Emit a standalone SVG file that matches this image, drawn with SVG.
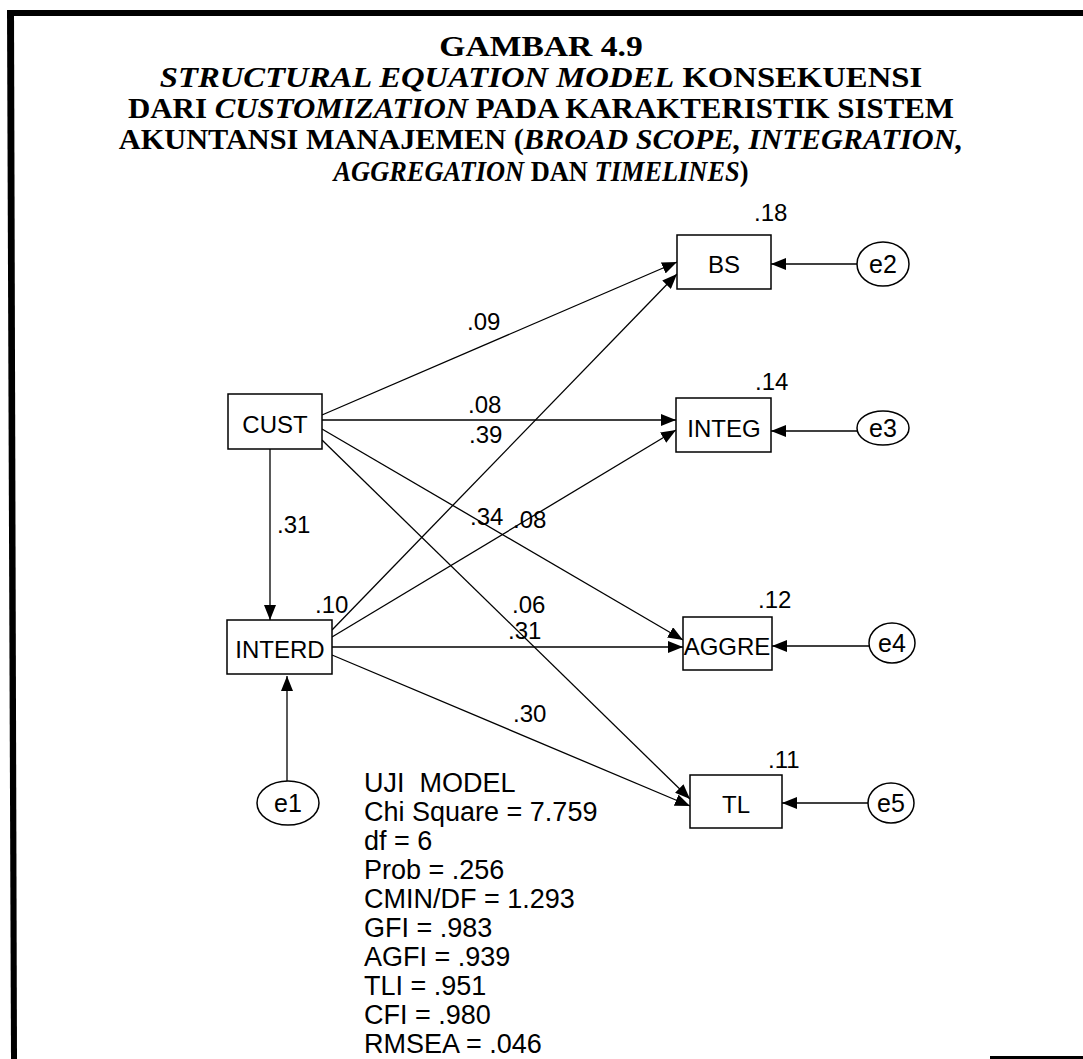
<svg xmlns="http://www.w3.org/2000/svg" width="1083" height="1059" viewBox="0 0 1083 1059">
<style>
.title{font-family:"Liberation Serif","Times New Roman",serif;font-weight:bold;font-size:30px;fill:#000;text-anchor:middle}
.it{font-style:italic}
.box{fill:#fff;stroke:#000;stroke-width:1.5}
.ell{fill:#fff;stroke:#000;stroke-width:1.5}
.lbl{font-family:"Liberation Sans",Arial,sans-serif;font-size:24px;fill:#000}
.nt{font-family:"Liberation Sans",Arial,sans-serif;font-size:24px;fill:#000;text-anchor:middle}
.et{font-family:"Liberation Sans",Arial,sans-serif;font-size:25px;fill:#000;text-anchor:middle}
.stat{font-family:"Liberation Sans",Arial,sans-serif;font-size:27px;fill:#000}
.c{stroke:#000;stroke-width:1.3;fill:none;marker-end:url(#ah)}
</style>
<defs>
<marker id="ah" markerUnits="userSpaceOnUse" markerWidth="16" markerHeight="12" refX="15" refY="6" orient="auto">
<path d="M0,0 L15,6 L0,12 Z" fill="#000"/>
</marker>
</defs>
<rect width="1083" height="1059" fill="#fff"/>
<g id="frame" fill="#000">
<rect x="7" y="10" width="1076" height="6"/>
<polygon points="7,10 14,10 17,1059 11,1059"/>
<rect x="990" y="1056" width="93" height="3"/>
</g>
<g id="title">
<text class="title" transform="translate(541,56) scale(1.12,1)" x="0" y="0">GAMBAR 4.9</text>
<text class="title" transform="translate(541,87) scale(1.09,1)" x="0" y="0"><tspan class="it">STRUCTURAL EQUATION MODEL</tspan> KONSEKUENSI</text>
<text class="title" transform="translate(541,118) scale(1.03,1)" x="0" y="0">DARI <tspan class="it">CUSTOMIZATION</tspan> PADA KARAKTERISTIK SISTEM</text>
<text class="title" transform="translate(541,149) scale(1.01,1)" x="0" y="0">AKUNTANSI MANAJEMEN (<tspan class="it">BROAD SCOPE, INTEGRATION,</tspan></text>
<text class="title" transform="translate(541,181) scale(0.88,1)" x="0" y="0"><tspan class="it">AGGREGATION</tspan> DAN <tspan class="it">TIMELINES</tspan>)</text>
</g>
<g id="connectors">
<line class="c" x1="322" y1="415" x2="677" y2="262"/>
<line class="c" x1="332" y1="630" x2="677" y2="274"/>
<line class="c" x1="322" y1="420" x2="676" y2="420"/>
<line class="c" x1="332" y1="637" x2="676" y2="430"/>
<line class="c" x1="322" y1="429" x2="683" y2="640"/>
<line class="c" x1="332" y1="647" x2="683" y2="647"/>
<line class="c" x1="322" y1="440" x2="690" y2="799"/>
<line class="c" x1="332" y1="655" x2="690" y2="806"/>
<line class="c" x1="270" y1="449" x2="270" y2="620"/>
<line class="c" x1="287" y1="781" x2="287" y2="676"/>
<line class="c" x1="857" y1="264" x2="771" y2="264"/>
<line class="c" x1="857" y1="431" x2="771" y2="431"/>
<line class="c" x1="869" y1="646" x2="772" y2="646"/>
<line class="c" x1="868" y1="803" x2="782" y2="803"/>
</g>
<g id="labels" class="lbl">
<text x="467" y="330">.09</text>
<text x="468" y="413">.08</text>
<text x="469" y="443">.39</text>
<text x="277" y="533">.31</text>
<text x="470" y="525">.34</text>
<text x="513" y="528">.08</text>
<text x="315" y="613">.10</text>
<text x="512" y="613">.06</text>
<text x="508" y="639">.31</text>
<text x="513" y="722">.30</text>
</g>
<g id="node-CUST">
<rect class="box" x="228" y="394" width="94" height="55"/>
<text class="nt" x="275" y="433">CUST</text>
</g>
<g id="node-INTERD">
<rect class="box" x="227" y="620" width="105" height="54"/>
<text class="nt" x="280" y="658">INTERD</text>
</g>
<g id="node-BS">
<rect class="box" x="677" y="235" width="94" height="54"/>
<text class="nt" x="724" y="273">BS</text>
<text class="lbl" x="754" y="221">.18</text>
</g>
<g id="node-INTEG">
<rect class="box" x="676" y="398" width="95" height="54"/>
<text class="nt" x="724" y="437">INTEG</text>
<text class="lbl" x="755" y="390">.14</text>
</g>
<g id="node-AGGRE">
<rect class="box" x="683" y="617" width="89" height="53"/>
<text class="nt" x="727" y="655">AGGRE</text>
<text class="lbl" x="758" y="608">.12</text>
</g>
<g id="node-TL">
<rect class="box" x="690" y="775" width="92" height="53"/>
<text class="nt" x="736" y="813">TL</text>
<text class="lbl" x="768" y="768">.11</text>
</g>
<g id="node-e1">
<ellipse class="ell" cx="288" cy="803" rx="31" ry="22"/>
<text class="et" x="288" y="812">e1</text>
</g>
<g id="node-e2">
<ellipse class="ell" cx="883" cy="264" rx="26" ry="22"/>
<text class="et" x="883" y="273">e2</text>
</g>
<g id="node-e3">
<ellipse class="ell" cx="883" cy="428" rx="26" ry="17"/>
<text class="et" x="883" y="437">e3</text>
</g>
<g id="node-e4">
<ellipse class="ell" cx="892" cy="643" rx="23" ry="20"/>
<text class="et" x="892" y="652">e4</text>
</g>
<g id="node-e5">
<ellipse class="ell" cx="891" cy="803" rx="23" ry="20"/>
<text class="et" x="891" y="812">e5</text>
</g>
<g id="stats" class="stat">
<text x="364" y="792" xml:space="preserve">UJI  MODEL</text>
<text x="364" y="821">Chi Square = 7.759</text>
<text x="364" y="850">df = 6</text>
<text x="364" y="879">Prob = .256</text>
<text x="364" y="908">CMIN/DF = 1.293</text>
<text x="364" y="937">GFI = .983</text>
<text x="364" y="966">AGFI = .939</text>
<text x="364" y="995">TLI = .951</text>
<text x="364" y="1024">CFI = .980</text>
<text x="364" y="1053">RMSEA = .046</text>
</g>
</svg>
